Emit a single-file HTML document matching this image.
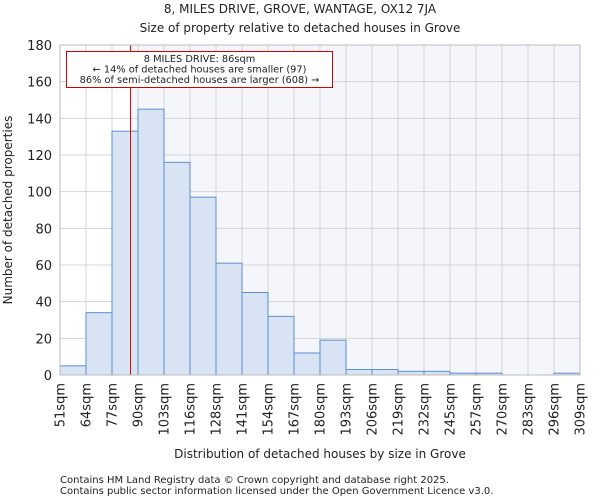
<!DOCTYPE html>
<html><head><meta charset="utf-8"><style>
body{margin:0;background:#fff;font-family:"DejaVu Sans","Liberation Sans",sans-serif}
svg text{font-family:"DejaVu Sans","Liberation Sans",sans-serif;fill:#222}
</style></head><body>
<svg id="chart" width="600" height="500" xmlns="http://www.w3.org/2000/svg">
<text x="300" y="13" font-size="12" text-anchor="middle">8, MILES DRIVE, GROVE, WANTAGE, OX12 7JA</text>
<text x="300" y="32" font-size="12" text-anchor="middle">Size of property relative to detached houses in Grove</text>
<g id="plot"></g>
<text x="320" y="458" font-size="12" text-anchor="middle">Distribution of detached houses by size in Grove</text>
<text transform="translate(12,210) rotate(-90)" font-size="12" text-anchor="middle">Number of detached properties</text>
<text x="60" y="483" font-size="10" fill="#444">Contains HM Land Registry data © Crown copyright and database right 2025.</text>
<text x="60" y="494" font-size="10" fill="#444">Contains public sector information licensed under the Open Government Licence v3.0.</text>
</svg>
<script>
const binLabels=["51sqm","64sqm","77sqm","90sqm","103sqm","116sqm","128sqm","141sqm","154sqm","167sqm","180sqm","193sqm","206sqm","219sqm","232sqm","245sqm","257sqm","270sqm","283sqm","296sqm","309sqm"];
const counts=[5,34,133,145,116,97,61,45,32,12,19,3,3,2,2,1,1,0,0,1];
const yTicks=[0,20,40,60,80,100,120,140,160,180];
const markerSqm=86;
const binStart=51, binEnd=309;
const X0=60,X1=580,Y0=375,Y1=45,YMAX=180;
const ns="http://www.w3.org/2000/svg";
const g=document.getElementById('plot');
const bw=(X1-X0)/counts.length;
const xs=v=>X0+(v-binStart)/(binEnd-binStart)*(X1-X0);
const ys=v=>Y0-v/YMAX*(Y0-Y1);
function mk(t,a){const e=document.createElementNS(ns,t);for(const k in a)e.setAttribute(k,a[k]);g.appendChild(e);return e;}
const mx=xs(markerSqm);
let e=mk('rect',{x:mx,y:Y1,width:X1-mx,height:Y0-Y1,fill:'#f4f6fc'});


for(let i=0;i<=counts.length;i++){e=mk('line',{x1:X0+i*bw,x2:X0+i*bw,y1:Y1,y2:Y0,stroke:'#d4d4d4','stroke-width':1});

}
yTicks.forEach(t=>{e=mk('line',{x1:X0,x2:X1,y1:ys(t),y2:ys(t),stroke:'#d4d4d4','stroke-width':1});


e=mk('text',{x:X0-8,y:ys(t)+5,'font-size':13,'text-anchor':'end'});e.textContent=t;

});
counts.forEach((c,i)=>{if(c<=0)return;e=mk('rect',{x:X0+i*bw,y:ys(c),width:bw,height:Y0-ys(c),fill:'#d8e3f4',stroke:'#5b8fd0','stroke-width':1});

});
binLabels.forEach((l,i)=>{const x=X0+i*bw+4.5;e=mk('text',{x:x,y:Y0+8,'font-size':13,'text-anchor':'end',transform:`rotate(-90 ${x} ${Y0+8})`});e.textContent=l;

});
e=mk('line',{x1:mx,x2:mx,y1:Y1,y2:Y0,stroke:'#d00','stroke-width':1});


e=mk('rect',{x:66.5,y:51.5,width:266,height:36,fill:'#fff',stroke:'#c00','stroke-width':1});


["8 MILES DRIVE: 86sqm","← 14% of detached houses are smaller (97)","86% of semi-detached houses are larger (608) →"].forEach((s,i)=>{e=mk('text',{x:199.5,y:62+i*10.5,'font-size':9.8,'text-anchor':'middle'});e.textContent=s;

});
e=mk('rect',{x:X0,y:Y1,width:X1-X0,height:Y0-Y1,fill:'none',stroke:'#bbb'});


</script>
</body></html>
